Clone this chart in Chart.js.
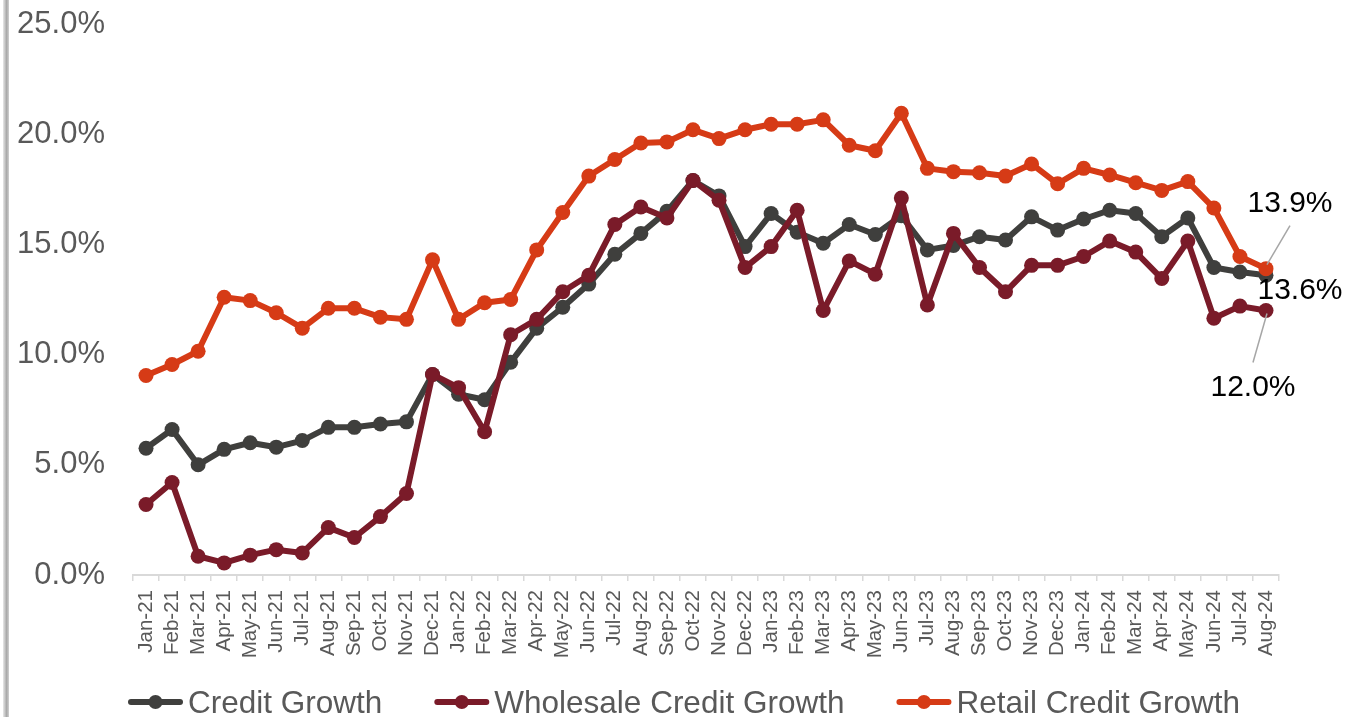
<!DOCTYPE html>
<html><head><meta charset="utf-8">
<script src="https://cdn.jsdelivr.net/npm/chart.js@4.4.1/dist/chart.umd.min.js"></script>
<style>
html,body{margin:0;padding:0;background:#fff;}
#wrap{position:relative;width:1355px;height:717px;overflow:hidden;background:#fff;}
#bar{position:absolute;left:3px;top:0;width:6px;height:717px;background:linear-gradient(to right,#e8e8e8,#a8a8a8 60%,#d0d0d0);}
canvas{position:absolute;left:0;top:0;}
</style></head><body>
<div id="wrap"><div id="bar"></div><canvas id="c" width="1355" height="717"></canvas></div>
<script>
const categories = ['Jan-21','Feb-21','Mar-21','Apr-21','May-21','Jun-21','Jul-21','Aug-21','Sep-21','Oct-21','Nov-21','Dec-21',
  'Jan-22','Feb-22','Mar-22','Apr-22','May-22','Jun-22','Jul-22','Aug-22','Sep-22','Oct-22','Nov-22','Dec-22',
  'Jan-23','Feb-23','Mar-23','Apr-23','May-23','Jun-23','Jul-23','Aug-23','Sep-23','Oct-23','Nov-23','Dec-23',
  'Jan-24','Feb-24','Mar-24','Apr-24','May-24','Jun-24','Jul-24','Aug-24'];

const creditGrowth = [5.75,6.6,5.0,5.7,6.0,5.8,6.1,6.7,6.7,6.85,6.95,9.1,
  8.2,7.95,9.65,11.2,12.15,13.2,14.55,15.5,16.5,17.9,17.2,14.9,
  16.4,15.55,15.05,15.9,15.45,16.3,14.75,14.95,15.35,15.2,16.25,15.65,
  16.15,16.55,16.4,15.35,16.2,13.95,13.75,13.6];

const wholesaleCreditGrowth = [3.2,4.2,0.85,0.55,0.9,1.15,1.0,2.15,1.7,2.65,3.7,9.1,
  8.5,6.5,10.9,11.6,12.85,13.6,15.9,16.7,16.2,17.9,17.0,13.95,
  14.9,16.55,12.0,14.25,13.65,17.1,12.25,15.5,13.95,12.85,14.05,14.05,
  14.45,15.15,14.65,13.45,15.15,11.65,12.2,12.0];

const retailCreditGrowth = [9.05,9.55,10.15,12.6,12.45,11.9,11.2,12.1,12.1,11.7,11.6,14.3,
  11.6,12.35,12.5,14.75,16.45,18.1,18.85,19.6,19.65,20.2,19.8,20.2,
  20.45,20.45,20.65,19.5,19.25,20.95,18.45,18.3,18.25,18.1,18.65,17.75,
  18.45,18.15,17.8,17.45,17.85,16.65,14.45,13.9];

const yTicks = [0,5,10,15,20,25];

const FONT = '"Liberation Sans", Arial, sans-serif';
const C_CREDIT = '#3f3f3d';
const C_WHOLE = '#7a1b29';
const C_RETAIL = '#d63b16';

// end-of-series labels (offsets relative to the last point's pixel position)
const endLabelPlugin = {
  id: 'endLabels',
  afterDatasetsDraw(chart) {
    const ctx = chart.ctx;
    const cfg = [
      {dx: 34, dy: 15, leader: null},
      {dx: -13, dy: 77, leader: [[1, 3], [-13, 52]]},
      {dx: 24, dy: -65, leader: [[1, -4], [24, -43]]}
    ];
    ctx.save();
    chart.data.datasets.forEach((ds, i) => {
      const meta = chart.getDatasetMeta(i);
      const last = meta.data[meta.data.length - 1];
      const v = ds.data[ds.data.length - 1];
      const c = cfg[i];
      if (c.leader) {
        ctx.strokeStyle = '#a6a6a6';
        ctx.lineWidth = 1.5;
        ctx.beginPath();
        ctx.moveTo(last.x + c.leader[0][0], last.y + c.leader[0][1]);
        ctx.lineTo(last.x + c.leader[1][0], last.y + c.leader[1][1]);
        ctx.stroke();
      }
      ctx.fillStyle = '#000';
      ctx.font = '30px ' + FONT;
      ctx.textAlign = 'center';
      ctx.textBaseline = 'middle';
      ctx.fillText(v.toFixed(1) + '%', last.x + c.dx, last.y + c.dy);
    });
    ctx.restore();
  }
};

const legendPlugin = {
  id: 'lineLegend',
  afterDraw(chart) {
    const ctx = chart.ctx;
    let x = 128;
    const y = 702;
    ctx.save();
    ctx.font = '31.5px ' + FONT;
    ctx.textAlign = 'left';
    ctx.textBaseline = 'alphabetic';
    chart.data.datasets.forEach(ds => {
      ctx.strokeStyle = ds.borderColor;
      ctx.lineWidth = 6;
      ctx.lineCap = 'round';
      ctx.beginPath();
      ctx.moveTo(x + 3, y);
      ctx.lineTo(x + 52, y);
      ctx.stroke();
      ctx.fillStyle = ds.borderColor;
      ctx.beginPath();
      ctx.arc(x + 27.5, y, 7, 0, Math.PI * 2);
      ctx.fill();
      ctx.fillStyle = '#595959';
      ctx.fillText(ds.label, x + 60, 713);
      x += 60 + ctx.measureText(ds.label).width + 52;
    });
    ctx.restore();
  }
};

function mk(label, data, color, order) {
  return {label, data, borderColor: color, backgroundColor: color,
    pointBackgroundColor: color, pointBorderColor: color, pointBorderWidth: 0,
    pointRadius: 7.5, pointHoverRadius: 7.5, borderWidth: 6, tension: 0,
    borderJoinStyle: 'round', borderCapStyle: 'round', order};
}

new Chart(document.getElementById('c').getContext('2d'), {
  type: 'line',
  data: {
    labels: categories,
    datasets: [
      mk('Credit Growth', creditGrowth, C_CREDIT, 3),
      mk('Wholesale Credit Growth', wholesaleCreditGrowth, C_WHOLE, 2),
      mk('Retail Credit Growth', retailCreditGrowth, C_RETAIL, 1)
    ]
  },
  options: {
    responsive: false,
    animation: false,
    devicePixelRatio: 1,
    layout: {padding: {left: 0, right: 76, top: 24, bottom: 0}},
    plugins: {legend: {display: false}, tooltip: {enabled: false}},
    scales: {
      x: {
        type: 'category',
        offset: true,
        grid: {display: true, offset: true, drawOnChartArea: false, drawTicks: true, tickLength: 6, color: '#d9d9d9', lineWidth: 1.5},
        border: {display: true, color: '#d9d9d9', width: 2},
        ticks: {autoSkip: false, minRotation: 90, maxRotation: 90, padding: 9, color: '#595959', font: {family: FONT, size: 20.5}},
        afterFit(s) { s.height = 142; }
      },
      y: {
        min: yTicks[0],
        max: yTicks[yTicks.length - 1],
        afterBuildTicks(s) { s.ticks = yTicks.map(v => ({value: v})); },
        ticks: {padding: 3, color: '#595959', font: {family: FONT, size: 31}, callback: v => Number(v).toFixed(1) + '%'},
        grid: {display: true, drawOnChartArea: false, drawTicks: true, tickLength: 25, tickColor: 'rgba(0,0,0,0)', color: 'rgba(0,0,0,0)'},
        border: {display: false},
        afterFit(s) { s.width = 133; }
      }
    }
  },
  plugins: [endLabelPlugin, legendPlugin]
});
</script>
</body></html>
